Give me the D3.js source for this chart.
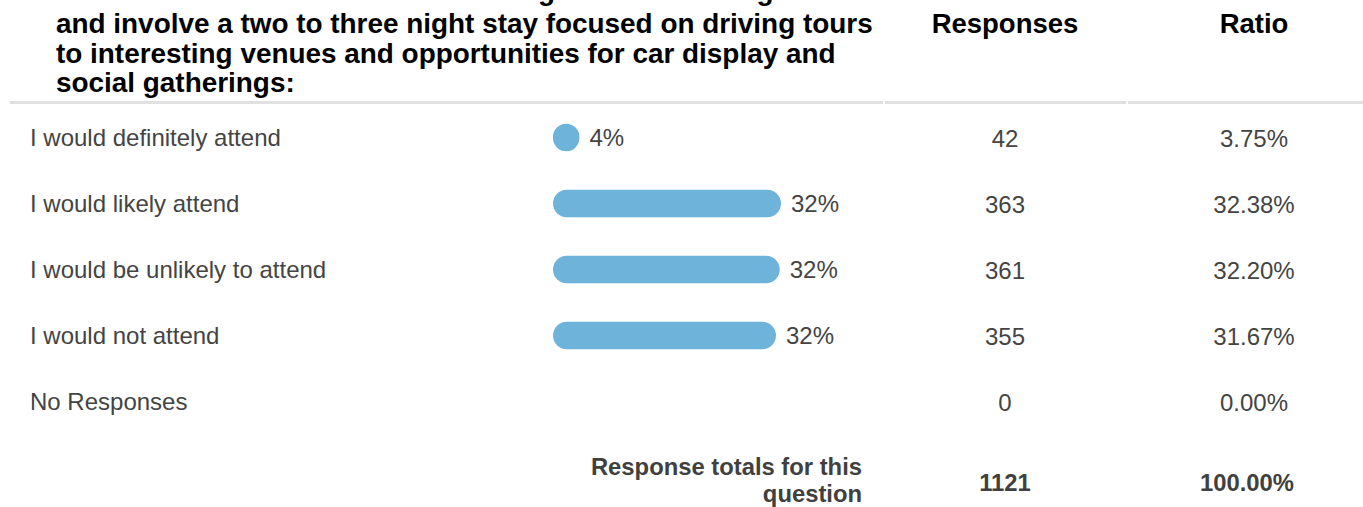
<!DOCTYPE html>
<html>
<head>
<meta charset="utf-8">
<script src="https://cdn.jsdelivr.net/npm/d3@7/dist/d3.min.js"></script>
<style>
  html, body { margin: 0; padding: 0; background: #fff; }
  svg { display: block; font-family: "Liberation Sans", Arial, Helvetica, sans-serif; }
</style>
</head>
<body>
<svg id="chart" width="1363" height="507"></svg>
<script>
// ---- data ----
const categories = [
  "I would definitely attend",
  "I would likely attend",
  "I would be unlikely to attend",
  "I would not attend",
  "No Responses"
];
const responses = [42, 363, 361, 355, 0];
const ratios = [3.75, 32.38, 32.20, 31.67, 0.00];
const percentLabels = ["4%", "32%", "32%", "32%", null];
const titleLines = [
  "The event would be scheduled during the fall at a single hotel location",
  "and involve a two to three night stay focused on driving tours",
  "to interesting venues and opportunities for car display and",
  "social gatherings:"
];
const columnHeaders = ["Responses", "Ratio"];
const totalLabelLines = ["Response totals for this", "question"];
const totalResponses = 1121;
const totalRatio = "100.00%";

// ---- drawing ----
const svg = d3.select("#chart");
const barColor = "#6db3da";
const textColor = "#444444";

const x = d3.scaleLinear().domain([0, 100]).range([553, 1257]);
const y = d3.scalePoint().domain(categories).range([137.5, 401.5]);
const barH = 27.5;

// header title (first line scrolled mostly out of view, as in the reference)
const titleBaselines = [0, 33, 62.5, 92];
svg.append("g").selectAll("text").data(titleLines).join("text")
  .attr("x", 56)
  .attr("y", (d, i) => titleBaselines[i])
  .attr("font-size", 27.9)
  .attr("font-weight", "bold")
  .attr("fill", "#000")
  .text(d => d);

// column headers
const colCenters = [1005, 1254];
svg.append("g").selectAll("text").data(columnHeaders).join("text")
  .attr("x", (d, i) => colCenters[i])
  .attr("y", 33)
  .attr("text-anchor", "middle")
  .attr("font-size", 27.5)
  .attr("font-weight", "bold")
  .attr("fill", "#000")
  .text(d => d);

// header bottom borders
const borders = [[10, 883], [885, 1126], [1128, 1363]];
svg.append("g").selectAll("rect").data(borders).join("rect")
  .attr("x", d => d[0]).attr("y", 101)
  .attr("width", d => d[1] - d[0]).attr("height", 3)
  .attr("fill", "#e1e1e1");

// rows
const rows = svg.append("g");
rows.selectAll("text.cat").data(categories).join("text")
  .attr("class", "cat")
  .attr("x", 30)
  .attr("y", d => y(d) + 8.5)
  .attr("font-size", 24)
  .attr("fill", textColor)
  .text(d => d);

const barData = categories.map((c, i) => ({ c, r: ratios[i], label: percentLabels[i] }))
  .filter(d => d.r > 0);

rows.selectAll("rect.bar").data(barData).join("rect")
  .attr("class", "bar")
  .attr("x", x(0))
  .attr("y", d => y(d.c) - barH / 2)
  .attr("width", d => x(d.r) - x(0))
  .attr("height", barH)
  .attr("rx", d => Math.min(barH / 2, (x(d.r) - x(0)) / 2))
  .attr("fill", barColor);

rows.selectAll("text.pct").data(barData).join("text")
  .attr("class", "pct")
  .attr("x", d => x(d.r) + 10)
  .attr("y", d => y(d.c) + 8.5)
  .attr("font-size", 24)
  .attr("fill", textColor)
  .text(d => d.label);

rows.selectAll("text.resp").data(categories).join("text")
  .attr("class", "resp")
  .attr("x", colCenters[0])
  .attr("y", d => y(d) + 9)
  .attr("text-anchor", "middle")
  .attr("font-size", 24)
  .attr("fill", textColor)
  .text((d, i) => responses[i]);

rows.selectAll("text.ratio").data(categories).join("text")
  .attr("class", "ratio")
  .attr("x", colCenters[1])
  .attr("y", d => y(d) + 9)
  .attr("text-anchor", "middle")
  .attr("font-size", 24)
  .attr("fill", textColor)
  .text((d, i) => ratios[i].toFixed(2) + "%");

// totals row
const tot = svg.append("g").attr("font-weight", "bold").attr("fill", "#404040");
tot.selectAll("text.tl").data(totalLabelLines).join("text")
  .attr("class", "tl")
  .attr("x", 862)
  .attr("y", (d, i) => 475 + i * 26.5)
  .attr("text-anchor", "end")
  .attr("font-size", 23.8)
  .text(d => d);
tot.append("text")
  .attr("x", colCenters[0]).attr("y", 491)
  .attr("text-anchor", "middle").attr("font-size", 23.8)
  .text(totalResponses);
tot.append("text")
  .attr("x", 1247).attr("y", 491)
  .attr("text-anchor", "middle").attr("font-size", 23.8)
  .text(totalRatio);
</script>
</body>
</html>
